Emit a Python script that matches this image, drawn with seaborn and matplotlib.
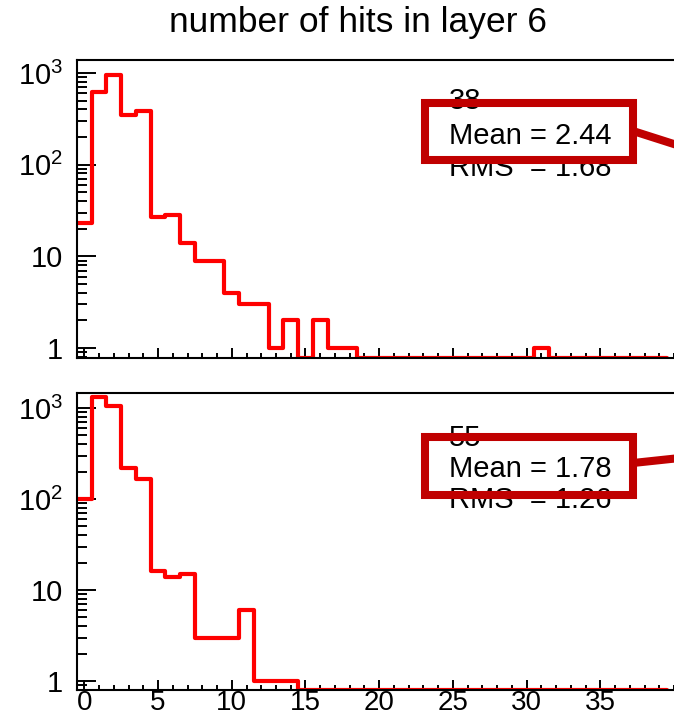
import matplotlib
matplotlib.use("Agg")
import matplotlib.pyplot as plt
import numpy as np
import pandas as pd
import seaborn as sns
from matplotlib.lines import Line2D
from matplotlib.patches import Rectangle
from matplotlib.ticker import FixedLocator, FixedFormatter, MultipleLocator, NullFormatter, LogLocator

# histogram contents, one bin per hit count 0..39
bin_centers = np.arange(0, 40)
top_counts = [23, 620, 950, 350, 385, 27, 28, 14, 9, 9, 4, 3, 3, 1, 2, 0, 2, 1, 1, 0,
              0, 0, 0, 0, 0, 0, 0, 0, 0, 0, 0, 1, 0, 0, 0, 0, 0, 0, 0, 0]
bottom_counts = [100, 1320, 1050, 220, 167, 16, 14, 15, 3, 3, 3, 6, 1, 1, 1, 0, 0, 0, 0, 0,
                 0, 0, 0, 0, 0, 0, 0, 0, 0, 0, 0, 0, 0, 0, 0, 0, 0, 0, 0, 0]

top_stats = ["38", "Mean = 2.44", "RMS  = 1.68"]
bottom_stats = ["55", "Mean = 1.78", "RMS  = 1.26"]

title = "number of hits in layer 6"
x_ticks = [0, 5, 10, 15, 20, 25, 30, 35]
y_ticks = [1, 10, 100, 1000]
y_tick_labels = ["1", "10", r"$10^{2}$", r"$10^{3}$"]

W, H = 674, 720
BOX_RED = "#c00000"

sns.set_style("ticks")
plt.rcParams["font.family"] = ["Liberation Sans", "DejaVu Sans"]
plt.rcParams["mathtext.fontset"] = "custom"
plt.rcParams["mathtext.rm"] = "Liberation Sans"
plt.rcParams["mathtext.it"] = "Liberation Sans:italic"
plt.rcParams["mathtext.bf"] = "Liberation Sans:bold"
plt.rcParams["text.color"] = "black"
plt.rcParams["xtick.color"] = "black"
plt.rcParams["ytick.color"] = "black"
plt.rcParams["xtick.labelcolor"] = "black"
plt.rcParams["ytick.labelcolor"] = "black"

fig = plt.figure(figsize=(W / 100, H / 100), dpi=100)


def px_box(left, top, right, bottom):
    return [left / W, 1 - bottom / H, (right - left) / W, (bottom - top) / H]


def draw_panel(rect, counts, ylim, show_xlabels):
    ax = fig.add_axes(rect)
    # empty bins are drawn on the frame, as ROOT does
    df = pd.DataFrame({"hits": bin_centers,
                       "n": np.where(np.array(counts) > 0, counts, ylim[0])})
    sns.histplot(data=df, x="hits", weights="n", binwidth=1, binrange=(-0.5, 39.5),
                 element="step", fill=False, color="#ff0000", linewidth=3.0, ax=ax)
    ax.set_yscale("log")
    ax.set_xlim(-0.5, 40.0)
    ax.set_ylim(*ylim)
    ax.set_xlabel("")
    ax.set_ylabel("")

    ax.yaxis.set_major_locator(FixedLocator(y_ticks))
    ax.yaxis.set_major_formatter(FixedFormatter(y_tick_labels))
    ax.yaxis.set_minor_locator(LogLocator(base=10, subs=np.arange(2, 10)))
    ax.yaxis.set_minor_formatter(NullFormatter())
    ax.xaxis.set_major_locator(FixedLocator(x_ticks))
    ax.xaxis.set_minor_locator(MultipleLocator(1))

    ax.tick_params(axis="y", which="major", direction="in", length=14, width=1.4,
                   labelsize=21, pad=10)
    ax.tick_params(axis="y", which="minor", direction="in", length=7, width=1.4)
    ax.tick_params(axis="x", which="major", direction="in", length=7, width=1.4,
                   labelsize=20, pad=0, labelbottom=show_xlabels)
    ax.tick_params(axis="x", which="minor", direction="in", length=3.5, width=1.4)

    for side in ("left", "bottom", "top"):
        ax.spines[side].set_linewidth(1.5)
        ax.spines[side].set_color("black")
    ax.spines["right"].set_visible(False)
    return ax


draw_panel(px_box(77, 60, 674, 358), top_counts, (0.778, 1383), False)
draw_panel(px_box(77, 393, 674, 690), bottom_counts, (0.797, 1463), True)


def draw_stats(lines, baselines, box, link):
    for text, base in zip(lines, baselines):
        fig.text(449 / W, 1 - base / H, text, fontsize=21, ha="left", va="baseline",
                 color="black", zorder=5)
    left, top, right, bottom = box
    fig.add_artist(Rectangle((left / W, 1 - bottom / H), (right - left) / W,
                             (bottom - top) / H, fill=False, edgecolor=BOX_RED,
                             linewidth=5.8, zorder=6, transform=fig.transFigure))
    (x0, y0), (x1, y1) = link
    fig.add_artist(Line2D([x0 / W, x1 / W], [1 - y0 / H, 1 - y1 / H], color=BOX_RED,
                          linewidth=5.8, zorder=6, transform=fig.transFigure))


draw_stats(top_stats, [109, 144, 176], (425, 103, 633, 160), ((633, 131), (680, 146)))
draw_stats(bottom_stats, [446, 477, 508], (425, 437, 633, 495), ((633, 463), (680, 458)))

fig.text(358 / W, 1 - 32 / H, title, fontsize=25.5, ha="center", va="baseline",
         color="black")

fig.savefig("out.png", dpi=100)
